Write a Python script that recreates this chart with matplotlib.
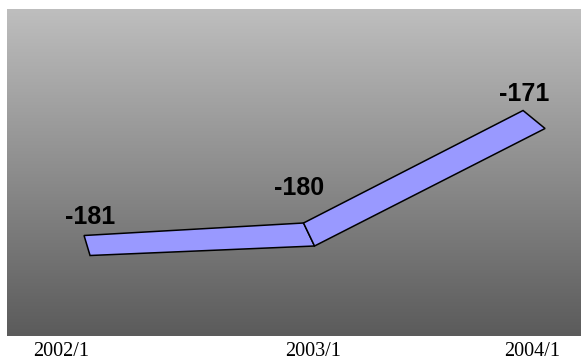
import numpy as np
import matplotlib
matplotlib.use("Agg")
import matplotlib.pyplot as plt
from matplotlib.patches import Polygon
from matplotlib.colors import LinearSegmentedColormap

periods = ['2002/1', '2003/1', '2004/1']
values = [-181, -180, -171]

# depth of the ribbon at each point (pixels right, pixels down)
depth = [(6, 20), (11, 23), (22, 18)]
# value label offsets (pixels) from the back edge of the ribbon
label_off = [(6, 19), (-4, 35), (1, 17)]
# period label horizontal nudges (pixels)
tick_off = [-23, 10, 9]

fig = plt.figure(figsize=(5.81, 3.6), dpi=100)
ax = fig.add_axes([7 / 581, 24 / 360, 574 / 581, 327 / 360])
ax.set_xlim(-0.351, 2.264)
ax.set_ylim(-189.04, -162.88)
ax.axis('off')

# grey vertical gradient behind the plot
grad = np.linspace(0, 1, 256).reshape(-1, 1)
cmap = LinearSegmentedColormap.from_list('bg', ['#bebebe', '#5b5b5b'])
ax.imshow(grad, cmap=cmap, aspect='auto', extent=[-0.351, 2.264, -189.04, -162.88],
          origin='upper', zorder=0, interpolation='bicubic')

x = np.arange(len(values))
fig.canvas.draw()
back = ax.transData.transform(np.column_stack([x, values]))
front = back + np.array([(dx, -dy) for dx, dy in depth])

for i in range(len(values) - 1):
    verts = [back[i], back[i + 1], front[i + 1], front[i]]
    ax.add_patch(Polygon(verts, closed=True, transform=None, facecolor='#9999ff',
                         edgecolor='black', linewidth=1.1, joinstyle='miter', zorder=2 + i))

for xi, v, (dx, dy) in zip(x, values, label_off):
    ax.annotate(f'{v}', (xi, v), xytext=(dx, dy), textcoords='offset pixels',
                ha='center', va='center', fontsize=18, fontweight='bold',
                family='Liberation Sans', color='black', zorder=5)

for xi, lab, dx in zip(x, periods, tick_off):
    ax.annotate(lab, (xi, 0), xycoords=('data', 'axes fraction'), xytext=(dx, -16),
                textcoords='offset pixels', ha='center', va='center', fontsize=14.5,
                family='Liberation Serif', color='black', annotation_clip=False)

fig.savefig('out.png', dpi=100)
